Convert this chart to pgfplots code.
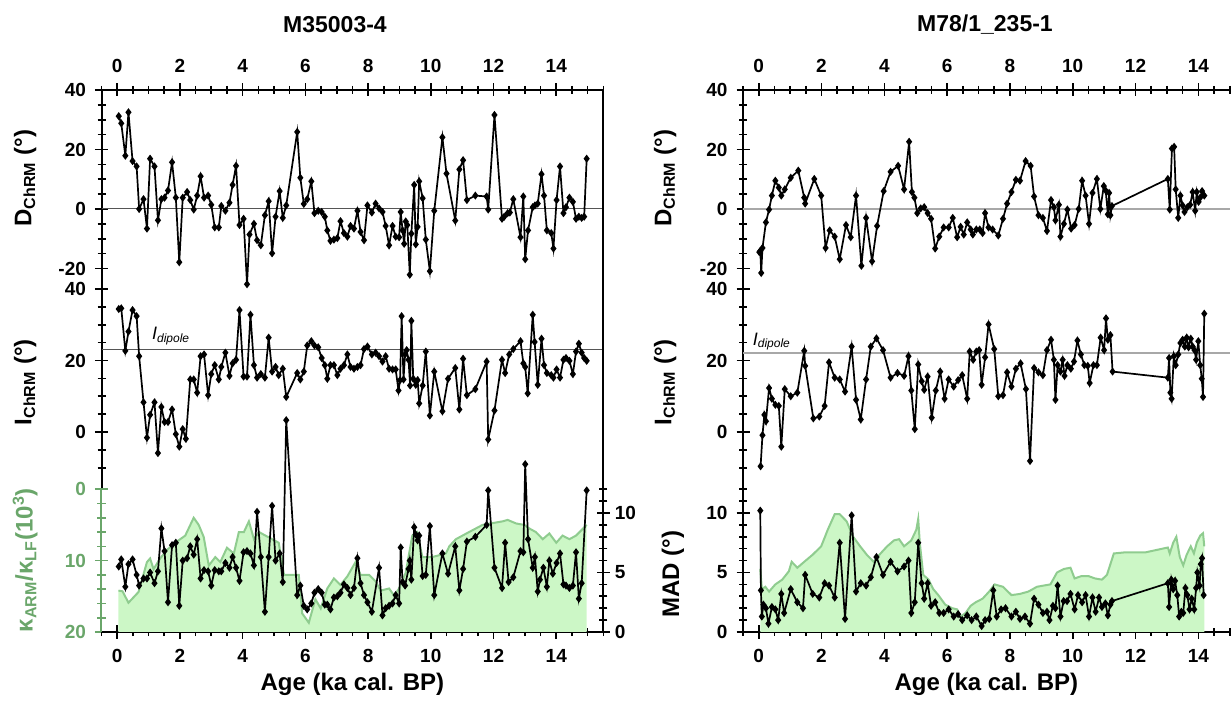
\documentclass[border=0pt]{standalone}
\usepackage{pgfplots}
\pgfplotsset{compat=1.18}
\usepackage{fontspec}
\setmainfont{Liberation Sans}
\definecolor{kfill}{HTML}{CCF7C6}
\definecolor{kedge}{HTML}{8FCC8F}
\definecolor{ktext}{HTML}{6AA66A}
\definecolor{refL}{HTML}{555555}
\definecolor{refR}{HTML}{A8A8A8}
\pgfplotsset{
  panel/.style={scale only axis, clip=false, tick align=outside,
    major tick length=6.5pt, minor tick length=4pt,
    tick style={black, line width=0.8pt},
    ticklabel style={font=\fontsize{9.5}{11}\selectfont\bfseries},
    label style={font=\fontsize{12}{14}\selectfont\bfseries},
    /pgf/number format/assume math mode=true,
    yticklabel style={xshift=-1pt}},
  noarrow/.style={axis line style={-, line width=1pt},
    x axis line style={-}, y axis line style={-},
    every outer x axis line/.append style={-},
    every outer y axis line/.append style={-}},
  dline/.style={black, line width=0.85pt, mark=diamond*, mark size=1.35pt, mark options={solid}},
}
\begin{document}
\begin{tikzpicture}
\path[use as bounding box] (0,0) rectangle (615.5pt,353pt);
\node[font=\fontsize{11.5}{13}\selectfont\bfseries] at (167.5pt,340.5pt) {M35003-4};
\node[font=\fontsize{11.5}{13}\selectfont\bfseries] at (492.5pt,340.5pt) {M78/1\_235-1};
% ================= LEFT COLUMN =================
% D panel
\begin{axis}[panel, at={(50.75pt,208.5pt)}, anchor=south west, width=250.9pt, height=99.5pt,
  xmin=-0.5, xmax=15.5, ymin=-26.9, ymax=40,
  axis x line=top, axis y line=left,
  xtick={0,2,...,14}, minor xtick={-0.5,0,...,15.5},
  xticklabel style={yshift=2pt},
  ytick={-20,0,20,40}, minor ytick={-15,-10,-5,5,10,15,25,30,35},
  ylabel={D\textsubscript{ChRM} (°)},
  ylabel style={at={(axis description cs:-0.152,0.558)}, anchor=center}, noarrow]
\addplot[refL, line width=0.5pt] coordinates {(-0.5,0) (15.5,0)};
\addplot[dline] coordinates {(0.05,31.2) (0.13,28.8) (0.26,17.9) (0.36,32.5) (0.49,16.1) (0.62,14.3) (0.70,0) (0.84,3.3) (0.95,-6.6) (1.05,16.9) (1.19,14.3) (1.30,-3.8) (1.41,3.3) (1.51,3.8) (1.62,6.2) (1.75,15.7) (1.87,3.8) (1.98,-17.9) (2.09,3.8) (2.23,5.7) (2.33,3.0) (2.44,-0.2) (2.55,4.5) (2.66,11.0) (2.77,3.8) (2.90,4.5) (3.00,1.4) (3.11,-6.2) (3.24,-6.2) (3.32,1.0) (3.45,-0.6) (3.58,2.1) (3.68,8.1) (3.79,14.5) (3.90,-5.4) (4.03,-3.3) (4.14,-25.3) (4.22,-8.6) (4.36,-5.0) (4.46,-10.5) (4.58,-12.2) (4.71,-2.1) (4.83,2.6) (4.94,-14.9) (5.05,-2.6) (5.18,6.0) (5.28,-3.0) (5.39,1.2) (5.74,25.9) (5.84,10.5) (5.95,1.7) (6.06,3.3) (6.19,9.3) (6.29,-1.4) (6.41,-0.6) (6.52,-1.0) (6.62,-2.6) (6.70,-7.2) (6.80,-10.7) (6.91,-10.3) (7.02,-9.8) (7.12,-4.1) (7.23,-8.1) (7.34,-9.3) (7.44,-5.7) (7.55,-6.6) (7.66,-0.6) (7.76,-7.7) (7.87,-10.5) (7.98,1.2) (8.12,-1.2) (8.24,1.8) (8.35,0.2) (8.46,-1.0) (8.56,-5.7) (8.67,-12.2) (8.78,-5.7) (8.88,-9.3) (8.99,-9.5) (9.04,-1.0) (9.10,-7.2) (9.15,-11.7) (9.20,-4.2) (9.25,-5.4) (9.33,-22.1) (9.38,-8.3) (9.47,8.1) (9.52,-11.9) (9.58,-6.0) (9.63,9.3) (9.74,3.6) (9.84,-10.3) (9.97,-20.9) (10.11,-0.6) (10.37,24.1) (10.50,11.9) (10.78,-3.9) (10.91,13.3) (11.03,16.4) (11.15,3.0) (11.42,4.5) (11.78,4.2) (11.83,-0.2) (12.03,31.6) (12.27,-3.3) (12.34,-2.6) (12.45,-1.4) (12.52,-1.2) (12.63,3.3) (12.86,-9.5) (12.95,4.2) (13.01,-16.9) (13.10,-7.2) (13.25,0.6) (13.32,1.2) (13.41,1.8) (13.53,11.7) (13.61,4.5) (13.70,-7.2) (13.84,-8.1) (13.91,-13.3) (14.01,3.0) (14.12,14.3) (14.23,-1.4) (14.31,0.6) (14.42,3.8) (14.53,2.4) (14.63,-3.3) (14.72,-2.6) (14.81,-3.0) (14.89,-2.6) (14.97,16.9)};
\end{axis}
% I panel
\begin{axis}[panel, at={(50.75pt,108.4pt)}, anchor=south west, width=250.9pt, height=100.1pt,
  xmin=-0.5, xmax=15.5, ymin=-16, ymax=40,
  axis x line=none, axis y line=left,
  ytick={0,20,40}, minor ytick={-10,-5,5,10,15,25,30,35},
  ylabel={I\textsubscript{ChRM} (°)},
  ylabel style={at={(axis description cs:-0.152,0.535)}, anchor=center}, noarrow]
\addplot[refL, line width=0.5pt] coordinates {(-0.5,23.1) (15.5,23.1)};
\node[anchor=south west, inner sep=0pt, font=\fontsize{9}{10}\selectfont\itshape] at (axis cs:1.1,24.3) {I\textsubscript{dipole}};
\addplot[dline] coordinates {(0.05,34.4) (0.13,34.6) (0.26,22.7) (0.36,28.1) (0.49,34.1) (0.62,32.4) (0.70,21.2) (0.84,8.3) (0.95,-1.6) (1.05,4.8) (1.19,8.3) (1.30,-5.9) (1.41,7.0) (1.51,2.8) (1.62,2.8) (1.75,6.3) (1.87,-0.6) (1.98,-4.1) (2.09,0.8) (2.19,-1.9) (2.33,14.7) (2.44,14.7) (2.55,11.0) (2.66,21.2) (2.77,21.7) (2.90,10.3) (3.00,16.2) (3.11,18.7) (3.24,14.7) (3.32,18.2) (3.45,22.2) (3.58,15.7) (3.68,19.2) (3.79,20.2) (3.90,34.1) (4.03,15.5) (4.14,15.5) (4.25,32.8) (4.36,18.7) (4.46,15.2) (4.58,16.2) (4.71,15.2) (4.83,26.4) (4.94,16.9) (5.05,18.2) (5.15,15.9) (5.28,17.7) (5.39,9.8) (5.74,16.5) (5.84,14.7) (5.95,16.9) (6.06,24.2) (6.19,25.4) (6.29,24.2) (6.41,23.7) (6.52,20.7) (6.62,18.7) (6.70,14.9) (6.80,18.7) (6.91,18.7) (7.02,15.9) (7.12,17.7) (7.23,18.7) (7.34,21.7) (7.44,18.2) (7.55,17.7) (7.66,18.2) (7.76,18.7) (7.87,23.2) (7.98,23.9) (8.12,21.7) (8.24,22.2) (8.35,21.2) (8.46,19.7) (8.56,21.2) (8.67,17.7) (8.78,17.5) (8.88,17.5) (8.97,11.6) (9.02,14.5) (9.07,32.4) (9.13,14.7) (9.18,21.7) (9.23,22.9) (9.29,20.2) (9.34,13.0) (9.38,31.1) (9.44,14.9) (9.52,13.2) (9.58,14.5) (9.63,8.0) (9.74,13.0) (9.84,22.5) (9.97,4.6) (10.11,16.9) (10.37,5.8) (10.55,14.9) (10.78,17.9) (10.91,6.3) (11.03,20.5) (11.15,10.3) (11.42,12.0) (11.78,19.7) (11.83,-2.1) (12.03,6.0) (12.27,20.2) (12.37,16.5) (12.50,21.7) (12.63,23.2) (12.86,25.4) (12.95,19.2) (13.01,18.2) (13.09,10.8) (13.25,32.8) (13.31,25.2) (13.41,13.2) (13.53,26.1) (13.61,18.7) (13.70,16.5) (13.84,15.9) (13.91,15.2) (14.01,17.5) (14.12,15.2) (14.23,20.2) (14.31,20.7) (14.42,19.9) (14.53,16.2) (14.63,22.5) (14.72,24.7) (14.81,22.2) (14.89,20.7) (14.97,19.9)};
\end{axis}
% bottom panel: kappa (green, reversed)
\begin{axis}[panel, at={(50.75pt,37pt)}, anchor=south west, width=250.9pt, height=71.4pt,
  xmin=-0.5, xmax=15.5, ymin=0, ymax=20, y dir=reverse,
  axis x line=bottom, axis y line=left,
  xtick={0,2,...,14}, minor xtick={-0.5,0,...,15.5},
  xticklabel style={yshift=-2pt},
  ytick={0,10,20}, minor ytick={2,4,6,8,12,14,16,18},
  xlabel={Age (ka cal. BP)},
  xlabel style={at={(axis description cs:0.5,0)}, anchor=center, yshift=-26pt},
  ylabel={κ\textsubscript{ARM}/κ\textsubscript{LF}(10\textsuperscript{3})},
  ylabel style={at={(axis description cs:-0.152,0.504)}, anchor=center, ktext}, noarrow,
  y axis line style={-, ktext}, y tick style={ktext}, yticklabel style={ktext}]
\addplot[fill=kfill, draw=none] coordinates {(0.04,20) (0.04,14.2) (0.17,14.3) (0.36,15.9) (0.68,14.4) (0.95,10.2) (1.05,9.7) (1.16,11.2) (1.37,9.7) (1.59,8.5) (1.85,7.5) (2.17,6.5) (2.44,4.0) (2.60,5.0) (2.76,6.7) (2.92,10.7) (3.13,9.5) (3.29,10.2) (3.50,8.2) (3.72,9.0) (3.88,6.0) (4.04,6.0) (4.20,4.5) (4.36,7.0) (4.52,6.0) (4.73,6.5) (4.94,7.0) (5.15,7.5) (5.32,12.0) (5.79,12.0) (5.90,17.4) (6.11,18.7) (6.32,15.4) (6.49,16.7) (6.70,13.9) (6.91,12.5) (7.12,13.4) (7.34,12.2) (7.60,10.2) (7.76,12.0) (8.03,12.0) (8.24,12.9) (8.40,14.2) (8.67,13.9) (8.83,14.9) (8.99,13.9) (9.20,11.7) (9.41,6.5) (9.57,6.0) (9.73,9.5) (10.05,9.5) (10.48,9.0) (10.59,8.0) (10.80,7.0) (11.01,6.5) (11.22,6.0) (11.65,5.0) (12.29,4.5) (12.45,4.3) (12.72,4.8) (12.98,5.0) (13.14,5.5) (13.35,6.0) (13.57,7.0) (13.78,6.2) (14.00,7.5) (14.20,6.5) (14.42,7.0) (14.63,6.5) (14.97,5.0) (14.97,20)} -- cycle;
\addplot[kedge, line width=1pt] coordinates {(0.04,14.2) (0.17,14.3) (0.36,15.9) (0.68,14.4) (0.95,10.2) (1.05,9.7) (1.16,11.2) (1.37,9.7) (1.59,8.5) (1.85,7.5) (2.17,6.5) (2.44,4.0) (2.60,5.0) (2.76,6.7) (2.92,10.7) (3.13,9.5) (3.29,10.2) (3.50,8.2) (3.72,9.0) (3.88,6.0) (4.04,6.0) (4.20,4.5) (4.36,7.0) (4.52,6.0) (4.73,6.5) (4.94,7.0) (5.15,7.5) (5.32,12.0) (5.79,12.0) (5.90,17.4) (6.11,18.7) (6.32,15.4) (6.49,16.7) (6.70,13.9) (6.91,12.5) (7.12,13.4) (7.34,12.2) (7.60,10.2) (7.76,12.0) (8.03,12.0) (8.24,12.9) (8.40,14.2) (8.67,13.9) (8.83,14.9) (8.99,13.9) (9.20,11.7) (9.41,6.5) (9.57,6.0) (9.73,9.5) (10.05,9.5) (10.48,9.0) (10.59,8.0) (10.80,7.0) (11.01,6.5) (11.22,6.0) (11.65,5.0) (12.29,4.5) (12.45,4.3) (12.72,4.8) (12.98,5.0) (13.14,5.5) (13.35,6.0) (13.57,7.0) (13.78,6.2) (14.00,7.5) (14.20,6.5) (14.42,7.0) (14.63,6.5) (14.97,5.0)};
\end{axis}
% bottom panel: right axis (black line)
\begin{axis}[panel, at={(50.75pt,37pt)}, anchor=south west, width=250.9pt, height=71.4pt,
  xmin=-0.5, xmax=15.5, ymin=0, ymax=12,
  axis x line=none, axis y line=right,
  ytick={0,5,10}, minor ytick={1,2,3,4,6,7,8,9,11,12},
  yticklabel style={xshift=0pt}, noarrow]
\addplot[dline] coordinates {(0.05,5.5) (0.13,6.1) (0.26,3.8) (0.36,5.7) (0.49,6.1) (0.62,4.8) (0.70,3.9) (0.84,4.5) (0.95,4.5) (1.05,5.0) (1.19,4.1) (1.30,5.1) (1.41,8.7) (1.51,6.8) (1.62,2.5) (1.75,7.3) (1.87,7.5) (1.98,2.2) (2.09,6.0) (2.23,6.2) (2.33,7.2) (2.44,6.5) (2.55,7.8) (2.66,4.5) (2.77,5.2) (2.90,5.1) (3.00,3.9) (3.11,5.2) (3.24,5.1) (3.32,5.1) (3.45,5.8) (3.58,5.4) (3.68,6.3) (3.79,5.4) (3.90,4.3) (4.03,6.7) (4.14,6.8) (4.25,6.6) (4.36,5.6) (4.46,10.1) (4.58,6.3) (4.71,1.7) (4.83,6.3) (4.94,10.6) (5.05,6.0) (5.18,6.6) (5.28,4.2) (5.39,17.8) (5.74,3.1) (5.84,3.9) (5.95,2.2) (6.06,1.9) (6.19,2.4) (6.29,3.3) (6.41,3.6) (6.52,3.3) (6.62,2.3) (6.70,2.3) (6.80,1.9) (6.91,2.9) (7.02,3.0) (7.12,3.3) (7.23,4.0) (7.34,3.7) (7.44,3.1) (7.55,3.7) (7.66,6.2) (7.76,4.1) (7.87,3.1) (7.98,2.5) (8.12,1.7) (8.35,5.4) (8.46,1.4) (8.56,2.0) (8.67,2.2) (8.78,2.4) (8.88,3.1) (8.99,2.4) (9.04,7.1) (9.10,4.2) (9.18,3.9) (9.29,5.3) (9.33,6.0) (9.38,4.4) (9.47,8.8) (9.52,8.2) (9.58,7.7) (9.63,8.1) (9.74,4.7) (9.84,4.8) (9.97,8.9) (10.11,3.1) (10.37,6.6) (10.55,4.9) (10.78,7.2) (10.91,3.5) (11.03,5.3) (11.15,7.6) (11.42,8.0) (11.78,9.0) (11.83,11.9) (12.03,5.4) (12.27,3.7) (12.37,7.5) (12.48,4.2) (12.63,4.6) (12.86,6.8) (12.95,6.7) (13.01,14.1) (13.10,7.8) (13.25,5.4) (13.32,6.3) (13.41,3.4) (13.48,4.4) (13.59,5.4) (13.70,3.8) (13.78,6.0) (13.89,4.9) (14.01,5.8) (14.12,6.6) (14.23,4.0) (14.31,3.9) (14.42,3.7) (14.53,3.9) (14.63,6.7) (14.72,2.8) (14.81,4.1) (14.97,11.9)};
\end{axis}
\draw[line width=1pt] (301.65pt,308pt) -- (301.65pt,37pt);
% ================= RIGHT COLUMN =================
\begin{axis}[panel, at={(371.5pt,208.5pt)}, anchor=south west, width=243.35pt, height=99.5pt,
  xmin=-0.5, xmax=15.0, ymin=-26.9, ymax=40,
  axis x line=top, axis y line=left,
  xtick={0,2,...,14}, minor xtick={-0.5,0,...,15},
  xticklabel style={yshift=2pt},
  ytick={-20,0,20,40}, minor ytick={-15,-10,-5,5,10,15,25,30,35},
  ylabel={D\textsubscript{ChRM} (°)},
  ylabel style={at={(axis description cs:-0.160,0.558)}, anchor=center}, noarrow]
\addplot[refR, line width=1pt] coordinates {(-0.5,0) (15.0,0)};
\addplot[dline] coordinates {(0.02,-14.5) (0.05,-14.1) (0.08,-21.5) (0.12,-13.1) (0.23,-4.5) (0.33,-0.2) (0.42,4.5) (0.53,9.5) (0.64,7.2) (0.72,4.5) (0.83,6.6) (1.02,10.5) (1.26,12.9) (1.45,3.8) (1.48,1.8) (1.77,10.1) (1.99,4.5) (2.13,-13.1) (2.26,-7.2) (2.42,-9.3) (2.58,-16.9) (2.78,-5.4) (2.93,-9.5) (3.10,4.5) (3.27,-19.1) (3.42,-3.0) (3.61,-17.6) (3.77,-5.7) (3.98,6.0) (4.20,12.5) (4.44,14.5) (4.63,6.6) (4.79,22.6) (4.88,5.7) (4.96,3.8) (5.05,-1.4) (5.16,0.2) (5.27,0.6) (5.38,-1.4) (5.49,-3.3) (5.62,-13.3) (5.75,-9.3) (5.89,-6.2) (6.05,-6.2) (6.18,-3.0) (6.32,-9.5) (6.43,-6.0) (6.53,-8.6) (6.64,-4.5) (6.75,-6.9) (6.82,-8.6) (6.93,-6.9) (7.04,-6.9) (7.13,-8.1) (7.21,-1.4) (7.32,-6.2) (7.45,-6.9) (7.63,-8.9) (7.78,-3.3) (7.91,1.8) (8.05,5.7) (8.19,9.8) (8.32,9.5) (8.50,16.1) (8.66,14.5) (8.77,4.2) (8.91,-2.1) (9.05,-3.0) (9.18,-7.4) (9.31,3.0) (9.40,0.6) (9.45,-3.8) (9.56,1.4) (9.61,-9.3) (9.72,-5.0) (9.83,-0.2) (9.95,-6.6) (10.06,-5.4) (10.19,0) (10.30,9.5) (10.41,4.5) (10.52,-5.0) (10.63,5.4) (10.77,10.1) (10.88,0) (10.99,7.7) (11.05,6.2) (11.12,-1.8) (11.16,5.4) (11.20,-2.1) (11.25,1.0) (13.03,10.1) (13.09,-0.2) (13.16,20.3) (13.23,20.9) (13.28,6.6) (13.36,-3.0) (13.43,4.5) (13.50,1.2) (13.56,-1.0) (13.65,0.6) (13.74,1.4) (13.82,5.7) (13.90,-0.6) (13.95,5.7) (14.01,2.4) (14.06,3.8) (14.12,6.0) (14.19,4.5)};
\end{axis}
\begin{axis}[panel, at={(371.5pt,108.4pt)}, anchor=south west, width=243.35pt, height=100.1pt,
  xmin=-0.5, xmax=15.0, ymin=-16, ymax=40,
  axis x line=none, axis y line=left,
  ytick={0,20,40}, minor ytick={-10,-5,5,10,15,25,30,35},
  ylabel={I\textsubscript{ChRM} (°)},
  ylabel style={at={(axis description cs:-0.160,0.535)}, anchor=center}, noarrow]
\addplot[refR, line width=1pt] coordinates {(-0.5,22.0) (15.0,22.0)};
\node[anchor=south west, inner sep=0pt, font=\fontsize{9}{10}\selectfont\itshape] at (axis cs:-0.2,22.8) {I\textsubscript{dipole}};
\addplot[dline] coordinates {(0.06,-9.6) (0.12,-0.9) (0.18,4.8) (0.23,3.0) (0.33,12.3) (0.42,9.3) (0.53,7.6) (0.64,7.3) (0.72,-4.1) (0.83,12.0) (1.02,10.0) (1.23,11.0) (1.45,22.7) (1.48,18.5) (1.74,3.8) (1.93,4.3) (2.10,7.3) (2.24,19.5) (2.42,15.2) (2.58,14.7) (2.75,11.3) (2.96,23.9) (3.10,9.0) (3.25,3.5) (3.42,14.7) (3.57,23.9) (3.75,26.2) (3.96,22.9) (4.20,15.2) (4.42,16.5) (4.63,15.7) (4.77,21.2) (4.86,11.6) (4.97,0.8) (5.08,18.9) (5.19,14.2) (5.27,11.8) (5.38,15.5) (5.51,4.0) (5.64,11.6) (5.78,16.9) (5.92,9.3) (6.05,14.7) (6.21,12.7) (6.35,14.5) (6.48,15.9) (6.64,9.3) (6.72,22.5) (6.83,20.2) (6.93,22.5) (7.02,22.9) (7.10,13.2) (7.21,20.9) (7.32,30.1) (7.50,23.2) (7.63,10.0) (7.78,10.3) (7.91,16.7) (8.05,12.7) (8.19,17.7) (8.34,19.2) (8.51,12.0) (8.64,-8.1) (8.77,17.9) (8.91,16.7) (9.05,15.9) (9.18,22.9) (9.31,25.8) (9.40,20.2) (9.45,9.0) (9.52,18.7) (9.61,16.9) (9.68,20.2) (9.74,15.7) (9.83,18.7) (9.94,17.7) (10.04,19.7) (10.15,25.6) (10.26,21.7) (10.37,18.7) (10.48,18.5) (10.54,13.7) (10.66,18.7) (10.77,18.7) (10.89,26.4) (11.00,22.9) (11.06,31.8) (11.12,25.8) (11.20,27.1) (11.27,16.9) (13.03,15.2) (13.07,20.7) (13.11,11.0) (13.15,9.3) (13.22,21.2) (13.28,18.7) (13.36,21.7) (13.43,24.9) (13.50,25.8) (13.57,23.9) (13.63,26.4) (13.69,23.7) (13.76,26.1) (13.82,23.9) (13.88,22.9) (13.93,20.2) (14.00,25.4) (14.06,18.7) (14.11,14.9) (14.15,9.8) (14.19,33.1)};
\end{axis}
\begin{axis}[panel, at={(371.5pt,37pt)}, anchor=south west, width=243.35pt, height=71.4pt,
  xmin=-0.5, xmax=15.0, ymin=0, ymax=12,
  axis x line=bottom, axis y line=left,
  xtick={0,2,...,14}, minor xtick={-0.5,0,...,15},
  xticklabel style={yshift=-2pt},
  ytick={0,5,10}, minor ytick={1,2,3,4,6,7,8,9,11,12},
  xlabel={Age (ka cal. BP)},
  xlabel style={at={(axis description cs:0.5,0)}, anchor=center, yshift=-26pt},
  ylabel={MAD (°)},
  ylabel style={at={(axis description cs:-0.144,0.406)}, anchor=center}, noarrow]
\addplot[fill=kfill, draw=none] coordinates {(0.05,0) (0.05,5.3) (0.10,3.6) (0.21,3.8) (0.33,3.4) (0.53,4.0) (0.75,4.4) (0.96,5.1) (1.05,5.9) (1.23,5.4) (1.45,5.9) (1.72,6.5) (1.99,7.2) (2.20,8.6) (2.42,9.9) (2.58,9.9) (2.80,9.3) (3.01,8.0) (3.23,7.2) (3.44,6.5) (3.66,5.9) (3.88,6.6) (4.09,7.2) (4.31,7.7) (4.47,7.8) (4.63,7.2) (4.86,7.7) (5.02,8.6) (5.08,9.5) (5.13,7.5) (5.24,4.8) (5.41,4.4) (5.56,3.6) (5.72,3.1) (5.94,2.3) (6.16,2.0) (6.32,1.9) (6.43,1.3) (6.59,1.6) (6.75,2.2) (6.91,2.5) (7.13,2.8) (7.34,3.4) (7.51,4.0) (7.78,3.8) (8.05,3.1) (8.32,3.2) (8.59,3.4) (8.86,3.8) (9.07,3.9) (9.29,4.0) (9.50,5.0) (9.72,5.3) (9.93,5.4) (10.06,4.5) (10.28,4.7) (10.50,4.7) (10.71,4.5) (10.93,4.4) (11.09,4.8) (11.31,6.6) (11.69,6.7) (12.33,6.7) (13.03,7.1) (13.09,6.6) (13.20,7.5) (13.30,8.0) (13.41,6.3) (13.52,5.6) (13.63,6.5) (13.76,7.2) (13.86,6.6) (13.95,7.5) (14.06,8.1) (14.15,8.3) (14.19,7.2) (14.19,0)} -- cycle;
\addplot[kedge, line width=1pt] coordinates {(0.05,5.3) (0.10,3.6) (0.21,3.8) (0.33,3.4) (0.53,4.0) (0.75,4.4) (0.96,5.1) (1.05,5.9) (1.23,5.4) (1.45,5.9) (1.72,6.5) (1.99,7.2) (2.20,8.6) (2.42,9.9) (2.58,9.9) (2.80,9.3) (3.01,8.0) (3.23,7.2) (3.44,6.5) (3.66,5.9) (3.88,6.6) (4.09,7.2) (4.31,7.7) (4.47,7.8) (4.63,7.2) (4.86,7.7) (5.02,8.6) (5.08,9.5) (5.13,7.5) (5.24,4.8) (5.41,4.4) (5.56,3.6) (5.72,3.1) (5.94,2.3) (6.16,2.0) (6.32,1.9) (6.43,1.3) (6.59,1.6) (6.75,2.2) (6.91,2.5) (7.13,2.8) (7.34,3.4) (7.51,4.0) (7.78,3.8) (8.05,3.1) (8.32,3.2) (8.59,3.4) (8.86,3.8) (9.07,3.9) (9.29,4.0) (9.50,5.0) (9.72,5.3) (9.93,5.4) (10.06,4.5) (10.28,4.7) (10.50,4.7) (10.71,4.5) (10.93,4.4) (11.09,4.8) (11.31,6.6) (11.69,6.7) (12.33,6.7) (13.03,7.1) (13.09,6.6) (13.20,7.5) (13.30,8.0) (13.41,6.3) (13.52,5.6) (13.63,6.5) (13.76,7.2) (13.86,6.6) (13.95,7.5) (14.06,8.1) (14.15,8.3) (14.19,7.2)};
\addplot[dline] coordinates {(0.05,10.2) (0.07,3.5) (0.10,1.3) (0.15,2.3) (0.23,2.0) (0.31,0.7) (0.42,2.1) (0.53,1.9) (0.62,1.0) (0.72,3.2) (0.81,1.6) (1.02,3.6) (1.23,2.5) (1.41,2.0) (1.48,4.8) (1.72,3.2) (1.93,2.9) (2.10,4.1) (2.24,3.9) (2.42,2.9) (2.58,7.5) (2.75,1.1) (2.96,9.8) (3.10,3.4) (3.25,4.1) (3.42,3.9) (3.57,4.6) (3.75,6.3) (3.96,4.8) (4.20,5.9) (4.42,5.1) (4.63,5.5) (4.77,6.0) (4.86,1.6) (4.97,2.5) (5.08,7.5) (5.19,4.1) (5.27,2.8) (5.38,4.1) (5.49,2.2) (5.62,2.5) (5.75,1.6) (5.89,1.6) (6.05,1.9) (6.21,1.3) (6.35,1.5) (6.48,1.0) (6.64,1.4) (6.78,1.0) (6.93,1.3) (7.10,0.5) (7.21,1.0) (7.34,1.1) (7.47,3.5) (7.58,1.3) (7.72,1.9) (7.86,2.0) (8.05,1.3) (8.19,1.7) (8.32,1.1) (8.48,1.3) (8.64,0.7) (8.77,2.8) (8.91,2.3) (9.05,1.6) (9.18,1.7) (9.26,1.0) (9.37,2.2) (9.45,2.0) (9.52,3.9) (9.61,1.3) (9.71,2.6) (9.82,2.6) (9.93,3.2) (10.06,1.9) (10.17,3.1) (10.30,2.5) (10.41,3.1) (10.52,1.3) (10.63,2.9) (10.73,1.7) (10.84,2.9) (10.93,2.1) (11.04,2.4) (11.12,1.4) (11.20,2.3) (11.25,2.6) (13.03,4.1) (13.07,2.1) (13.14,4.4) (13.20,3.6) (13.26,4.3) (13.33,3.1) (13.39,1.3) (13.46,1.7) (13.52,1.6) (13.59,3.7) (13.65,3.1) (13.72,1.9) (13.79,2.8) (13.87,1.9) (13.93,3.7) (13.97,5.0) (14.04,3.9) (14.08,5.7) (14.12,6.2) (14.17,3.1)};
\end{axis}
\end{tikzpicture}
\end{document}
